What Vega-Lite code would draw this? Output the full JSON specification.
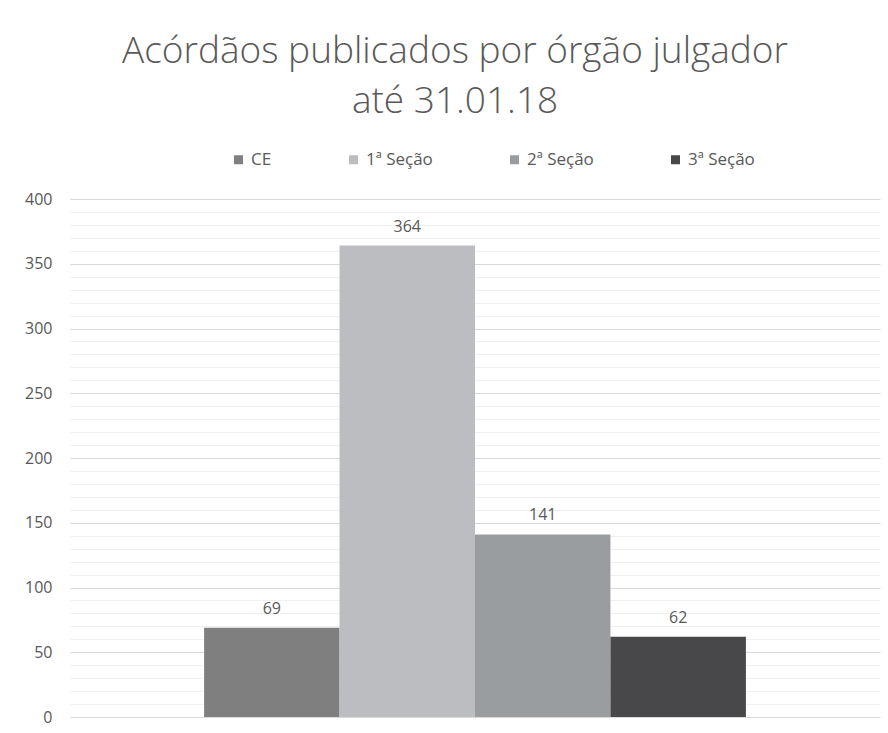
{
  "$schema": "https://vega.github.io/schema/vega-lite/v6.json",
  "autosize": "none",
  "padding": {"left": 70, "top": 199, "right": 8, "bottom": 16},
  "width": 810,
  "height": 518,
  "background": "white",
  "config": {"view": {"stroke": null}},
  "title": {
    "text": ["Acórdãos publicados por órgão julgador", "até 31.01.18"],
    "font": "Open Sans",
    "fontWeight": 300,
    "fontSize": 37,
    "lineHeight": 50,
    "color": "#595959",
    "anchor": "middle",
    "dx": -20,
    "offset": 30
  },
  "data": {
    "values": [
      {"serie": "CE", "valor": 69},
      {"serie": "1ª Seção", "valor": 364},
      {"serie": "2ª Seção", "valor": 141},
      {"serie": "3ª Seção", "valor": 62}
    ]
  },
  "encoding": {
    "x": {
      "field": "serie",
      "type": "nominal",
      "sort": ["CE", "1ª Seção", "2ª Seção", "3ª Seção"],
      "scale": {"paddingInner": 0, "paddingOuter": 0.99},
      "axis": null
    },
    "y": {
      "field": "valor",
      "type": "quantitative",
      "scale": {"domain": [0, 400], "nice": false},
      "axis": {
        "title": null,
        "values": [0,10,20,30,40,50,60,70,80,90,100,110,120,130,140,150,160,170,180,190,200,210,220,230,240,250,260,270,280,290,300,310,320,330,340,350,360,370,380,390,400],
        "labelExpr": "datum.value % 50 === 0 ? datum.label : ''",
        "gridColor": {"condition": {"test": "datum.value % 50 === 0", "value": "#d9d9d9"}, "value": "#f0f0f0"},
        "gridWidth": 1,
        "ticks": false,
        "domain": false,
        "labelPadding": 18,
        "labelFont": "Open Sans",
        "labelFontSize": 16,
        "labelColor": "#595959"
      }
    }
  },
  "layer": [
    {
      "mark": {"type": "bar"},
      "encoding": {
        "color": {
          "field": "serie",
          "type": "nominal",
          "sort": ["CE", "1ª Seção", "2ª Seção", "3ª Seção"],
          "scale": {
            "domain": ["CE", "1ª Seção", "2ª Seção", "3ª Seção"],
            "range": ["#7f7f7f", "#bcbdc0", "#9a9da0", "#48484a"]
          },
          "legend": {
            "title": null,
            "orient": "none",
            "direction": "horizontal",
            "legendX": 160,
            "legendY": -48,
            "symbolType": "square",
            "symbolSize": 81,
            "symbolStrokeWidth": 0,
            "symbolOpacity": 1,
            "labelOffset": 4,
            "columnPadding": 73,
            "labelFont": "Open Sans",
            "labelFontSize": 17,
            "labelColor": "#595959"
          }
        }
      }
    },
    {
      "mark": {"type": "text", "dy": -14, "baseline": "alphabetic", "font": "Open Sans", "fontSize": 16, "color": "#595959"},
      "encoding": {"text": {"field": "valor", "type": "quantitative"}}
    }
  ]
}
